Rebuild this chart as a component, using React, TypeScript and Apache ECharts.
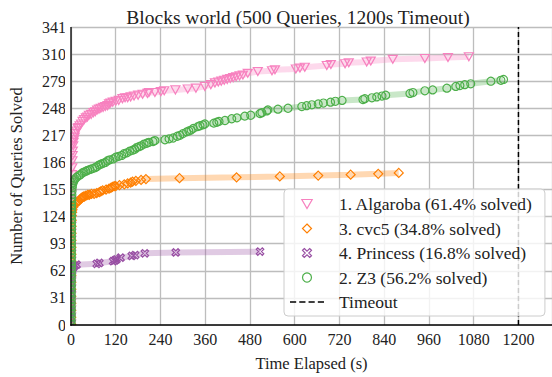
import React, { useEffect, useRef } from "react";
import * as echarts from "echarts";

// ---- data: [time elapsed (s), number of queries solved] ----
const algaroba: number[][] = [
  [0.5, 1], [0.6, 9], [0.6, 17], [0.7, 25], [0.7, 33], [0.8, 41], [0.8, 49], [0.9, 57],
  [0.9, 65], [1, 73], [1, 81], [1.1, 89], [1.1, 97], [1.2, 105], [1.3, 113], [1.3, 121],
  [1.4, 128], [1.5, 134], [1.7, 142], [2, 150], [2.3, 158], [2.6, 165], [3, 172],
  [3.5, 180], [4, 188], [4.5, 194], [5, 199], [6, 205], [7, 209], [8, 212], [10, 215],
  [12, 219], [15, 222], [18, 225], [20, 226], [23, 228], [27, 230], [31, 233], [35, 235],
  [40, 237], [44, 238], [48, 240], [54, 241], [60, 243], [65, 244], [70, 246], [75, 247],
  [80, 248], [86, 249], [92, 250], [98, 251], [102, 253], [106, 254], [112, 255], [120, 256],
  [128, 257], [138, 259], [145, 260], [152, 260], [160, 261], [169, 262], [180, 263],
  [192, 264], [205, 265], [209, 266], [225, 266], [241, 267], [250, 268], [280, 269],
  [313, 270], [335, 271], [359, 273], [375, 275], [386, 277], [395, 278], [403, 279],
  [411, 280], [419, 281], [427, 282], [435, 283], [443, 284], [452, 285], [461, 286],
  [474, 288], [501, 290], [539, 291], [547, 292], [603, 293], [614, 294], [627, 295],
  [686, 297], [697, 298], [735, 299], [745, 300], [793, 301], [804, 302], [863, 304],
  [949, 305], [1011, 306], [1067, 307],
];

const cvc5: number[][] = [
  [0.7, 1], [0.8, 9], [0.8, 17], [0.9, 25], [0.9, 33], [1, 41], [1, 49], [1.1, 57],
  [1.1, 65], [1.2, 73], [1.2, 81], [1.3, 89], [1.4, 97], [1.5, 105], [1.6, 113],
  [1.8, 120], [2.2, 125], [3, 129], [4, 132], [6, 135], [8, 137], [11, 139], [15, 140],
  [18, 141], [21, 142], [25, 144], [27, 145], [30, 146], [33, 147], [36, 147], [40, 148],
  [45, 149], [49, 149], [55, 150], [62, 150], [69, 151], [76, 152], [80, 153], [85, 154],
  [94, 155], [102, 156], [107, 157], [111, 158], [116, 159], [120, 159], [130, 160],
  [143, 161], [152, 162], [160, 163], [165, 164], [174, 165], [188, 166], [201, 167],
  [291, 168], [444, 169], [560, 170], [663, 171], [750, 172], [824, 173], [879, 174],
];

const princess: number[][] = [
  [0.8, 1], [0.9, 8], [0.9, 15], [1, 22], [1, 29], [1.1, 36], [1.2, 42], [1.4, 48],
  [1.7, 53], [2.2, 58], [3, 62], [4.5, 65], [7, 67], [10, 68], [15, 69], [69, 70],
  [76, 71], [113, 73], [118, 74], [122, 75], [133, 77], [163, 79], [172, 80], [198, 82],
  [281, 83], [507, 84],
];

const z3: number[][] = [
  [0.5, 1], [0.5, 5], [0.6, 9], [0.6, 13], [0.6, 17], [0.7, 21], [0.7, 25], [0.7, 29],
  [0.8, 33], [0.8, 37], [0.8, 41], [0.9, 45], [0.9, 49], [0.9, 53], [1, 57], [1, 61],
  [1, 65], [1.1, 69], [1.1, 73], [1.1, 77], [1.2, 81], [1.2, 85], [1.2, 89], [1.3, 93],
  [1.3, 97], [1.3, 101], [1.4, 105], [1.4, 109], [1.5, 113], [1.5, 117], [1.6, 121],
  [1.6, 125], [1.7, 129], [1.8, 133], [1.9, 137], [2, 141], [2.2, 145], [2.4, 149],
  [2.7, 153], [3.2, 157], [4, 160], [6, 163], [8, 165], [11, 167], [15, 169], [21, 171],
  [25, 172], [30, 174], [35, 175], [40, 176], [45, 177], [51, 178],
  [58, 179], [64, 180], [69, 181], [75, 183], [80, 184], [86, 185], [92, 186], [98, 188],
  [104, 189], [113, 190], [120, 192], [128, 193], [136, 194], [142, 196], [150, 197],
  [158, 199], [165, 200], [171, 201], [176, 203], [182, 204], [188, 205], [196, 207],
  [203, 208], [209, 209], [220, 210], [225, 211], [252, 212], [263, 213], [274, 214],
  [285, 216], [292, 217], [300, 219], [310, 221], [316, 222], [322, 223], [328, 225],
  [340, 227], [346, 228], [354, 229], [359, 230], [383, 231], [391, 232], [397, 233],
  [413, 234], [431, 236], [445, 237], [466, 239], [482, 240], [507, 242], [512, 243],
  [525, 245], [528, 246], [555, 247], [582, 248], [619, 250], [632, 251], [646, 252],
  [663, 253], [677, 254], [696, 255], [709, 256], [727, 257], [783, 258], [788, 259],
  [807, 260], [820, 261], [834, 262], [844, 263], [909, 265], [917, 266], [949, 268],
  [970, 269], [1008, 271], [1032, 273], [1043, 274], [1056, 275], [1072, 276],
  [1126, 279], [1153, 280], [1160, 281],
];

const timeoutLine: number[][] = [[1200, 0], [1200, 341]];

const seriesNames = [
  "1. Algaroba (61.4% solved)",
  "3. cvc5 (34.8% solved)",
  "4. Princess (16.8% solved)",
  "2. Z3 (56.2% solved)",
];
const timeoutName = "Timeout";
const titleText = "Blocks world (500 Queries, 1200s Timeout)";
const xName = "Time Elapsed (s)";
const yName = "Number of Queries Solved";

const colors = ["#f781bf", "#ff7f00", "#984ea3", "#4daf4a"];
const FONT = "Liberation Serif";
const TRI = "path://M0,0L10,0L5,8.7Z";
const DIAM = "path://M5,0L10,5L5,10L0,5Z";
const XMARK = "path://M2,0L5,3L8,0L10,2L7,5L10,8L8,10L5,7L2,10L0,8L3,5L0,2Z";
const DASH = "path://M0,0h6v1.6h-6zM9,0h6v1.6h-6zM18,0h6v1.6h-6zM27,0h6v1.6h-6z";
const symbols = [TRI, DIAM, XMARK, "circle"];
const symSizes = [[9, 8], 9, 7.5, 8];
const legendIcons = [TRI, DIAM, XMARK, "circle"];

const X_MIN = 0, X_MAX = 1290, Y_MIN = 0, Y_MAX = 341;

export default function App() {
  const ref = useRef<HTMLDivElement>(null);
  useEffect(() => {
    if (!ref.current) return;
    const chart = echarts.init(ref.current, undefined, { renderer: "svg" });
    const datasets = [algaroba, cvc5, princess, z3];
    const series: any[] = datasets.map((d, i) => ({
      name: seriesNames[i],
      type: "line",
      data: d,
      symbol: symbols[i],
      symbolSize: symSizes[i],
      showAllSymbol: true,
      lineStyle: { color: colors[i], width: 6, opacity: 0.3 },
      itemStyle: { color: "rgba(0,0,0,0)", borderColor: colors[i], borderWidth: 1.2 },
      emphasis: { disabled: true },
      z: 3 + i,
    }));
    series.push({
      name: timeoutName,
      type: "line",
      data: timeoutLine,
      symbol: "none",
      lineStyle: { color: "#000", width: 1.5, type: [5, 3] },
      z: 2,
    });
    const txt = { fontFamily: FONT, color: "#222" };
    chart.setOption({
      animation: false,
      backgroundColor: "#fff",
      textStyle: { fontFamily: FONT },
      title: {
        text: titleText,
        left: 293,
        top: 2,
        textAlign: "center",
        textStyle: { ...txt, fontSize: 19.5, fontWeight: "normal" },
      },
      grid: { left: 71, right: 0, top: 27, bottom: 49, containLabel: false },
      xAxis: {
        type: "value",
        min: X_MIN,
        max: X_MAX,
        interval: 120,
        name: xName,
        nameLocation: "middle",
        nameGap: 30,
        nameTextStyle: { ...txt, fontSize: 16.5 },
        axisLine: { show: false },
        axisTick: { show: false },
        axisLabel: {
          ...txt,
          fontSize: 16,
          margin: 6,
          showMaxLabel: false,
          formatter: (v: number) => (v % 120 === 0 ? String(v) : ""),
        },
        splitLine: { show: true, lineStyle: { color: "#bdbdbd", width: 1.3 } },
      },
      yAxis: {
        type: "value",
        min: Y_MIN,
        max: Y_MAX,
        interval: 31,
        name: yName,
        nameLocation: "middle",
        nameGap: 46,
        nameTextStyle: { ...txt, fontSize: 16.5 },
        axisLine: { show: false },
        axisTick: { show: false },
        axisLabel: { ...txt, fontSize: 16, margin: 5 },
        splitLine: { show: true, lineStyle: { color: "#bdbdbd", width: 1.3 } },
      },
      legend: {
        orient: "vertical",
        left: 284,
        top: 189,
        padding: [6, 12, 5, 6],
        itemWidth: 34,
        itemHeight: 9,
        itemGap: 6.5,
        backgroundColor: "rgba(255,255,255,0.8)",
        borderColor: "#cccccc",
        borderWidth: 1,
        borderRadius: 4,
        selectedMode: false,
        z: 20,
        textStyle: { ...txt, fontSize: 17.5, lineHeight: 16, padding: [0, 0, 0, 10] },
        data: [
          ...seriesNames.map((n, i) => ({
            name: n,
            icon: legendIcons[i],
            itemStyle: { color: "rgba(0,0,0,0)", borderColor: colors[i], borderWidth: 1.2 },
          })),
          { name: timeoutName, icon: DASH, itemStyle: { color: "#000", borderWidth: 0 } },
        ],
      },
      series,
    });
    // axes frame: white masks clip markers at the plot edge, then the two spines
    const o = chart.convertToPixel({ gridIndex: 0 }, [X_MIN, Y_MIN]) as number[];
    const t = chart.convertToPixel({ gridIndex: 0 }, [X_MIN, Y_MAX]) as number[];
    const r = chart.convertToPixel({ gridIndex: 0 }, [X_MAX, Y_MIN]) as number[];
    chart.setOption({
      graphic: [
        { type: "rect", z: 15, silent: true, shape: { x: o[0] - 6, y: t[1] - 6, width: 5.4, height: o[1] - t[1] + 12 }, style: { fill: "#fff" } },
        { type: "rect", z: 15, silent: true, shape: { x: o[0] - 6, y: o[1] + 0.6, width: r[0] - o[0] + 12, height: 5 }, style: { fill: "#fff" } },
        { type: "line", z: 16, silent: true, shape: { x1: o[0], y1: t[1], x2: o[0], y2: o[1] + 0.65 }, style: { stroke: "#000", lineWidth: 1.3 } },
        { type: "line", z: 16, silent: true, shape: { x1: o[0] - 0.65, y1: o[1], x2: r[0], y2: o[1] }, style: { stroke: "#000", lineWidth: 1.3 } },
      ],
    });
    return () => chart.dispose();
  }, []);
  return <div ref={ref} style={{ width: 552, height: 377, position: "absolute", left: 0, top: 0 }} />;
}
